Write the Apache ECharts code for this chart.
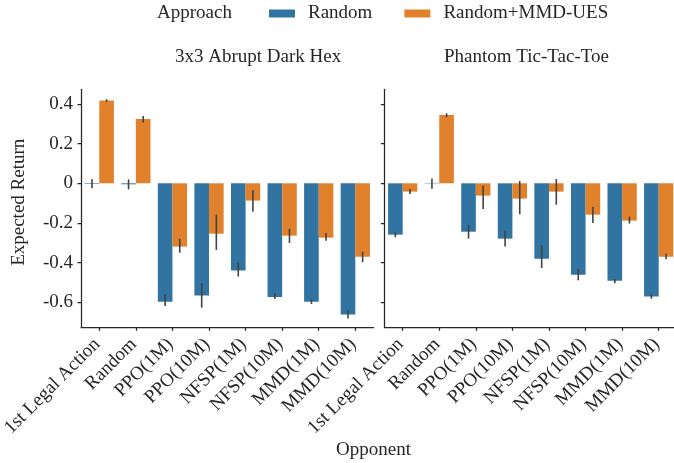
<!DOCTYPE html>
<html>
<head>
<meta charset="utf-8">
<script src="https://cdn.jsdelivr.net/npm/echarts@6/dist/echarts.min.js"></script>
<style>
html,body{margin:0;padding:0;background:#fff;}
#chart{width:674px;height:463px;}
</style>
</head>
<body>
<div id="chart"></div>
<script>
const categories = ['1st Legal Action','Random','PPO(1M)','PPO(10M)','NFSP(1M)','NFSP(10M)','MMD(1M)','MMD(10M)'];
const seriesNames = ['Random','Random+MMD-UES'];
const panelTitles = ['3x3 Abrupt Dark Hex','Phantom Tic-Tac-Toe'];
const yTicks = [-0.6,-0.4,-0.2,0,0.2,0.4];

const hexRandom   = [-0.003, -0.005, -0.597, -0.566, -0.440, -0.573, -0.597, -0.662];
const hexRandomLo = [-0.025, -0.030, -0.618, -0.627, -0.470, -0.583, -0.608, -0.681];
const hexRandomHi = [ 0.020,  0.020, -0.558, -0.503, -0.400, -0.553, -0.585, -0.639];
const hexUes      = [ 0.417,  0.324, -0.319, -0.254, -0.087, -0.264, -0.274, -0.370];
const hexUesLo    = [ 0.410,  0.306, -0.350, -0.336, -0.143, -0.301, -0.289, -0.398];
const hexUesHi    = [ 0.424,  0.339, -0.280, -0.158, -0.035, -0.229, -0.250, -0.345];

const pttRandom   = [-0.259,  0.002, -0.244, -0.279, -0.380, -0.461, -0.491, -0.571];
const pttRandomLo = [-0.272, -0.027, -0.279, -0.319, -0.427, -0.489, -0.504, -0.582];
const pttRandomHi = [-0.245,  0.024, -0.210, -0.239, -0.313, -0.430, -0.482, -0.561];
const pttUes      = [-0.042,  0.345, -0.062, -0.077, -0.042, -0.158, -0.188, -0.370];
const pttUesLo    = [-0.054,  0.333, -0.129, -0.156, -0.108, -0.200, -0.203, -0.383];
const pttUesHi    = [-0.029,  0.353, -0.012,  0.012,  0.022, -0.118, -0.168, -0.355];

const FONT = 'Liberation Serif';
const TXT = '#262626';
const BLUE = '#3274A1';
const ORANGE = '#E1812C';
const ERR = '#424242';

function errData(lo, hi){ return categories.map((c,i)=>[i, lo[i], hi[i]]); }
function errRender(offsetFrac){
  return function(params, api){
    const x = api.value(0);
    const p1 = api.coord([x, api.value(1)]);
    const p2 = api.coord([x, api.value(2)]);
    const band = api.size([1,0])[0];
    const cx = p1[0] + offsetFrac*band;
    return {type:'line', shape:{x1:cx,y1:p1[1],x2:cx,y2:p2[1]}, style:{stroke:ERR,lineWidth:1.6}};
  };
}

const axisLineStyle = {color:TXT, width:1.25};
function xAxisFor(gi){
  return {
    type:'category', gridIndex:gi, data:categories,
    axisLine:{show:true,onZero:false,lineStyle:axisLineStyle},
    axisTick:{show:true,alignWithLabel:true,length:3.5,lineStyle:axisLineStyle},
    axisLabel:{rotate:45,fontFamily:FONT,fontSize:19,color:TXT,margin:12,padding:[0,3,0,0],interval:0},
    splitLine:{show:false}
  };
}
function yAxisFor(gi){
  const ax = {
    type:'value', gridIndex:gi, min:-0.726, max:0.474,
    axisLine:{show:true,lineStyle:axisLineStyle},
    axisTick:{show:true,length:3.5,lineStyle:axisLineStyle,customValues:yTicks},
    axisLabel:{show:gi===0,fontFamily:FONT,fontSize:19,color:TXT,margin:8,customValues:yTicks,
      formatter:function(v){ return v===0 ? '0' : (+v.toFixed(1)).toString(); }},
    splitLine:{show:false}
  };
  if(gi===0){
    ax.name='Expected Return'; ax.nameLocation='middle'; ax.nameGap=52; ax.nameRotate=90;
    ax.nameTextStyle={fontFamily:FONT,fontSize:19,color:TXT,padding:[0,0,0,12]};
  }
  return ax;
}

function barSeries(name, gi, data, color){
  return {type:'bar', name:name, xAxisIndex:gi, yAxisIndex:gi, data:data,
    barGap:'0%', barCategoryGap:'20%', itemStyle:{color:color}, emphasis:{disabled:true}, animation:false};
}
function errSeries(gi, lo, hi, off){
  return {type:'custom', xAxisIndex:gi, yAxisIndex:gi, data:errData(lo,hi), renderItem:errRender(off), z:5, animation:false, silent:true};
}

const chart = echarts.init(document.getElementById('chart'), null, {renderer:'canvas'});
const titleStyle = {fontFamily:FONT,fontSize:19,color:TXT,fontWeight:'normal'};
chart.setOption({
  animation:false,
  title:[
    {text:'Approach', left:157, top:4, padding:0, textStyle:titleStyle},
    {text:panelTitles[0], left:175, top:48, padding:0, textStyle:titleStyle},
    {text:panelTitles[1], left:444, top:48, padding:0, textStyle:titleStyle},
    {text:'Opponent', left:336, top:441, padding:0, textStyle:titleStyle}
  ],
  legend:{
    data:seriesNames, left:269, top:4, padding:0, itemWidth:26, itemHeight:8, itemGap:32, icon:'rect',
    textStyle:{fontFamily:FONT,fontSize:19,color:TXT,padding:[0,0,0,8]}, selectedMode:false
  },
  grid:[
    {left:81, top:89.3, width:292.6, height:238, containLabel:false, outerBoundsMode:'none'},
    {left:384.4, top:89.3, width:292.6, height:238, containLabel:false, outerBoundsMode:'none'}
  ],
  xAxis:[xAxisFor(0), xAxisFor(1)],
  yAxis:[yAxisFor(0), yAxisFor(1)],
  series:[
    barSeries(seriesNames[0],0,hexRandom,BLUE),
    barSeries(seriesNames[1],0,hexUes,ORANGE),
    barSeries(seriesNames[0],1,pttRandom,BLUE),
    barSeries(seriesNames[1],1,pttUes,ORANGE),
    errSeries(0,hexRandomLo,hexRandomHi,-0.2),
    errSeries(0,hexUesLo,hexUesHi,0.2),
    errSeries(1,pttRandomLo,pttRandomHi,-0.2),
    errSeries(1,pttUesLo,pttUesHi,0.2)
  ]
});
</script>
</body>
</html>
